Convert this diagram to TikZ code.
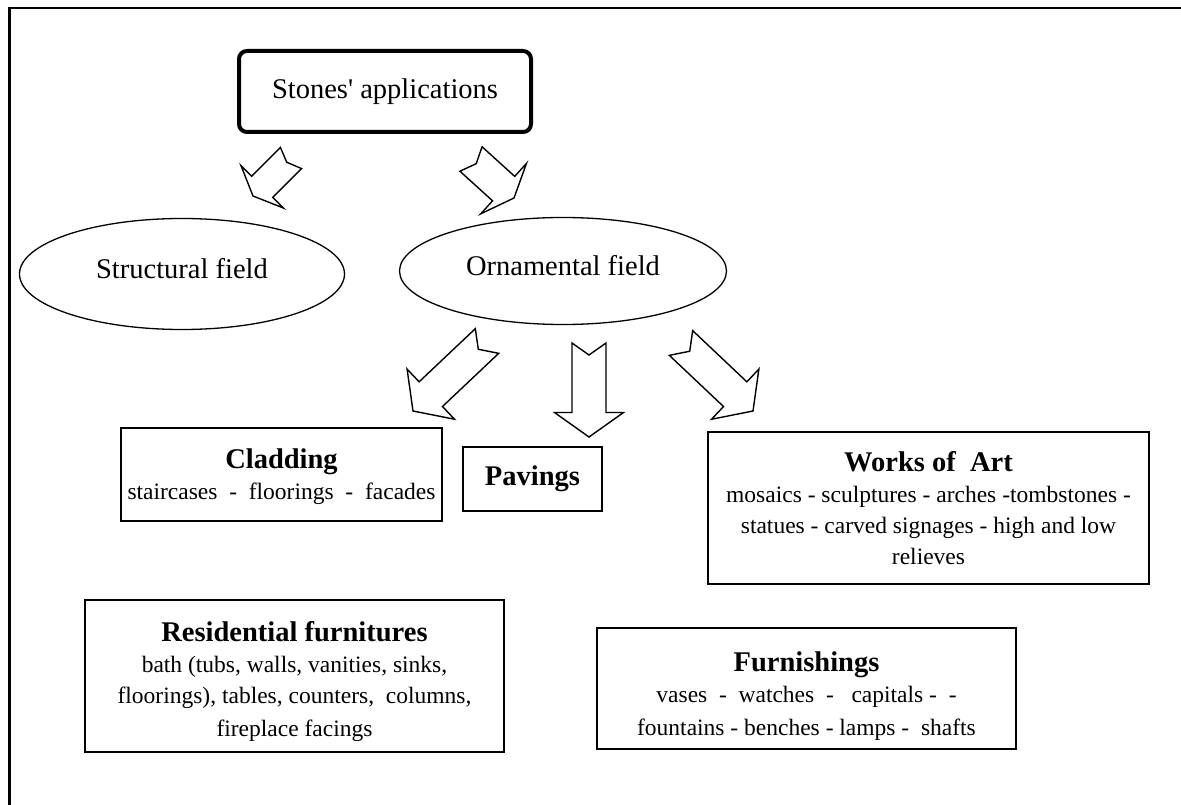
\documentclass[tikz,border=0pt]{standalone}
\usepackage{fontspec}
\setmainfont{Liberation Serif}
\usetikzlibrary{calc}
\usetikzlibrary{shapes.geometric}

\tikzset{
	field/.style={draw,shape=ellipse,line width=1.3pt,text depth=12pt,font=\fontsize{28.5}{34}\selectfont},
	infobox/.style={draw,line width=2pt,align=center,font=\fontsize{23.5}{31}\selectfont},
	blockline/.style={draw,line width=1.4pt,fill=white},
}
\newcommand{\boxhead}[1]{{\bfseries\fontsize{28.5}{31}\selectfont #1}}
% hollow arrow with notched tail: tail, tip, shaft half, head half, head length, notch
\newcommand{\blockarrow}[6]{%
	\coordinate (bs) at ($(#2)!#5!(#1)$);
	\draw[blockline] ($(#1)!#3!90:(#2)$) -- ($(#1)!#6!(#2)$) -- ($(#1)!#3!-90:(#2)$)
		-- ($(bs)!#3!-90:(#2)$) -- ($(bs)!#4!-90:(#2)$) -- (#2)
		-- ($(bs)!#4!90:(#2)$) -- ($(bs)!#3!90:(#2)$) -- cycle;
}

\begin{document}
\begin{tikzpicture}[x=1pt,y=-1pt]
	\useasboundingbox (0,0) rectangle (1181,805);
	\draw[line width=2.5pt] (9.5,805) -- (9.5,7.8) -- (1181,7.8);

	\node (apps) at (385,91.5) [draw,rounded corners=8pt,line width=4pt,minimum width=292pt,minimum height=81pt,font=\fontsize{28.5}{34}\selectfont] {Stones\textquotesingle{} applications};
	\node (struct) at (182,274) [field,minimum width=325pt,minimum height=111pt] {Structural field};
	\node (orna) at (563,271) [field,minimum width=327pt,minimum height=107pt] {Ornamental field};

	\node (clad) at (281.5,474.5) [infobox,minimum width=321pt,minimum height=93pt] {\rule{0pt}{25pt}\boxhead{Cladding}\\ staircases~ -~ floorings~ -~ facades};
	\node (pav) at (532.5,479) [infobox,minimum width=139pt,minimum height=64pt] {\boxhead{Pavings}};
	\node (art) at (928.5,508) [infobox,minimum width=441pt,minimum height=152pt] {\boxhead{Works of~ Art}\\ mosaics - sculptures - arches -tombstones -\\ statues - carved signages - high and low\\ relieves};
	\node (resi) at (294.5,676) [infobox,minimum width=419pt,minimum height=152pt] {\rule{0pt}{31pt}\boxhead{Residential furnitures}\\ bath (tubs, walls, vanities, sinks,\\ floorings), tables, counters,~ columns,\\[2pt] fireplace facings};
	\node (furn) at (806.5,688.5) [infobox,minimum width=419pt,minimum height=121pt] {\rule{0pt}{34pt}\boxhead{Furnishings}\\ vases~ -~ watches~ -~~ capitals -~ -\\[2pt] fountains - benches - lamps -~ shafts};

	\coordinate (a1t) at (291,158);
	\coordinate (a1h) at (253,196);
	\coordinate (a2t) at (471,159);
	\coordinate (a2h) at (514,198);
	\coordinate (a3t) at (487,341);
	\coordinate (a3h) at (413,411);
	\coordinate (a4t) at (589,343);
	\coordinate (a4h) at (589,437);
	\coordinate (a5t) at (681,343);
	\coordinate (a5h) at (753,411);

	\blockarrow{a1t}{a1h}{15pt}{30pt}{13pt}{6pt}
	\blockarrow{a2t}{a2h}{16.5pt}{34pt}{14pt}{7pt}
	\blockarrow{a3t}{a3h}{17pt}{34.5pt}{24.5pt}{12pt}
	\blockarrow{a4t}{a4h}{17pt}{34.5pt}{24.5pt}{12pt}
	\blockarrow{a5t}{a5h}{17pt}{34.5pt}{24.5pt}{12pt}
\end{tikzpicture}
\end{document}
